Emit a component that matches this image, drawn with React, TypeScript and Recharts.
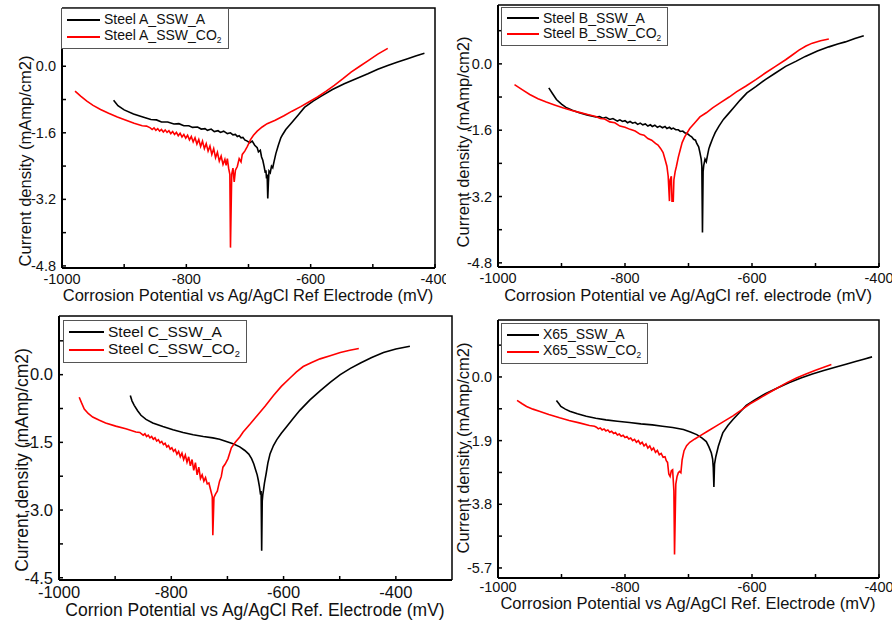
import React from 'react'
import { LineChart, Line, XAxis, YAxis, Legend } from 'recharts'

const FONT = '"Liberation Sans", Arial, Helvetica, sans-serif'

// potential (mV) vs log current density
const steelA_air = [
  [-917, -0.82], [-910, -0.95], [-900, -1.05], [-885, -1.15], [-870, -1.22], [-857, -1.28],
  [-848, -1.29], [-840, -1.34], [-830, -1.34], [-820, -1.39], [-812, -1.38], [-804, -1.43],
  [-796, -1.43], [-790, -1.47], [-782, -1.46], [-776, -1.51], [-770, -1.50], [-766, -1.54],
  [-760, -1.51], [-755, -1.57], [-749, -1.55], [-745, -1.59], [-740, -1.56], [-734, -1.62],
  [-729, -1.60], [-725, -1.65], [-721, -1.64], [-718, -1.69], [-715, -1.67], [-712, -1.72],
  [-709, -1.71], [-706, -1.77], [-702, -1.80], [-698, -1.84], [-694, -1.80], [-690, -1.90],
  [-686, -1.96], [-684, -2.06], [-681, -2.02], [-679, -2.18], [-677, -2.26], [-675, -2.40],
  [-673, -2.56], [-672, -2.50], [-671, -2.70], [-670, -2.60], [-669, -3.18], [-668, -2.80],
  [-667, -2.52], [-665, -2.56], [-663, -2.40], [-661, -2.44], [-659, -2.30], [-656, -2.10],
  [-652, -1.90], [-648, -1.72], [-645, -1.64], [-640, -1.52], [-632, -1.38], [-620, -1.17],
  [-610, -0.99], [-596, -0.84], [-583, -0.72], [-565, -0.56], [-546, -0.42], [-527, -0.30],
  [-508, -0.18], [-492, -0.07], [-476, 0.02], [-460, 0.10], [-444, 0.18], [-430, 0.25],
  [-417, 0.31],
]
const steelA_co2 = [
  [-979, -0.60], [-970, -0.72], [-960, -0.84], [-950, -0.94], [-938, -1.04], [-925, -1.13],
  [-911, -1.22], [-897, -1.30], [-884, -1.37], [-871, -1.43], [-864, -1.44], [-858, -1.48],
  [-855, -1.52], [-852, -1.48], [-849, -1.54], [-846, -1.50], [-843, -1.56], [-840, -1.52],
  [-837, -1.58], [-834, -1.53], [-831, -1.59], [-828, -1.55], [-825, -1.62], [-822, -1.57],
  [-819, -1.64], [-816, -1.59], [-813, -1.67], [-810, -1.61], [-807, -1.70], [-804, -1.64],
  [-801, -1.73], [-798, -1.66], [-795, -1.77], [-792, -1.69], [-789, -1.82], [-786, -1.72],
  [-783, -1.87], [-780, -1.76], [-777, -1.93], [-774, -1.80], [-771, -1.98], [-768, -1.86],
  [-765, -2.04], [-762, -1.92], [-759, -2.12], [-756, -1.98], [-753, -2.20], [-750, -2.07],
  [-747, -2.28], [-744, -2.16], [-741, -2.36], [-738, -2.24], [-736, -2.38], [-734, -2.22],
  [-732, -2.45], [-730, -2.60], [-729, -4.36], [-727, -2.60], [-725, -2.45], [-723, -2.78],
  [-721, -2.50], [-718, -2.41], [-715, -2.22], [-712, -2.30], [-710, -2.12], [-706, -2.04],
  [-702, -1.93], [-699, -1.84], [-697, -1.77], [-692, -1.66], [-686, -1.56], [-678, -1.46],
  [-670, -1.38], [-657, -1.30], [-643, -1.19], [-630, -1.08], [-616, -0.97], [-603, -0.86],
  [-589, -0.74], [-575, -0.60], [-562, -0.46], [-548, -0.30], [-535, -0.14], [-521, 0.00],
  [-508, 0.13], [-492, 0.29], [-476, 0.43],
]

const steelB_air = [
  [-920, -0.58], [-914, -0.72], [-908, -0.86], [-900, -0.97], [-893, -1.05], [-883, -1.12],
  [-872, -1.18], [-860, -1.23], [-846, -1.28], [-840, -1.27], [-835, -1.31], [-830, -1.29],
  [-824, -1.34], [-819, -1.32], [-812, -1.38], [-808, -1.35], [-804, -1.39], [-800, -1.37],
  [-796, -1.42], [-792, -1.39], [-788, -1.43], [-784, -1.41], [-780, -1.46], [-776, -1.43],
  [-772, -1.47], [-768, -1.45], [-764, -1.50], [-760, -1.47], [-757, -1.51], [-753, -1.48],
  [-749, -1.53], [-745, -1.50], [-741, -1.54], [-737, -1.51], [-734, -1.56], [-730, -1.53],
  [-727, -1.57], [-724, -1.55], [-720, -1.59], [-716, -1.59], [-713, -1.63], [-709, -1.62],
  [-706, -1.66], [-702, -1.68], [-698, -1.73], [-695, -1.76], [-692, -1.82], [-689, -1.84],
  [-687, -1.92], [-684, -2.00], [-682, -2.14], [-680, -2.30], [-679, -2.47], [-678, -4.07],
  [-677, -2.60], [-676, -2.45], [-674, -2.30], [-672, -2.36], [-670, -2.20], [-668, -2.05],
  [-666, -1.96], [-662, -1.80], [-658, -1.66], [-652, -1.50], [-645, -1.34], [-637, -1.20],
  [-629, -1.06], [-619, -0.88], [-608, -0.70], [-594, -0.55], [-579, -0.38], [-563, -0.22],
  [-547, -0.06], [-531, 0.06], [-516, 0.18], [-497, 0.31], [-479, 0.41], [-465, 0.48],
  [-453, 0.53], [-438, 0.61], [-424, 0.68],
]
const steelB_co2 = [
  [-974, -0.50], [-962, -0.62], [-950, -0.74], [-937, -0.84], [-924, -0.92], [-911, -0.99],
  [-898, -1.06], [-885, -1.12], [-872, -1.17], [-859, -1.22], [-846, -1.27], [-839, -1.32],
  [-832, -1.33], [-824, -1.40], [-816, -1.42], [-808, -1.50], [-800, -1.53], [-792, -1.58],
  [-784, -1.62], [-776, -1.70], [-770, -1.72], [-764, -1.80], [-758, -1.84], [-752, -1.92],
  [-748, -1.96], [-744, -2.04], [-740, -2.14], [-737, -2.30], [-734, -2.47], [-732, -2.71],
  [-730, -3.31], [-729, -2.80], [-727, -2.71], [-726, -3.31], [-724, -3.31], [-723, -2.80],
  [-721, -2.60], [-719, -2.47], [-716, -2.25], [-713, -2.07], [-710, -1.90], [-706, -1.76],
  [-698, -1.56], [-690, -1.42], [-682, -1.28], [-672, -1.18], [-662, -1.06], [-649, -0.93],
  [-636, -0.80], [-624, -0.67], [-610, -0.54], [-594, -0.38], [-579, -0.22], [-563, -0.06],
  [-547, 0.10], [-536, 0.22], [-526, 0.33], [-515, 0.43], [-505, 0.50], [-492, 0.56],
  [-479, 0.60],
]

const steelC_air = [
  [-873, -0.46], [-870, -0.58], [-866, -0.68], [-860, -0.80], [-854, -0.90], [-845, -0.99],
  [-833, -1.07], [-815, -1.15], [-797, -1.22], [-779, -1.28], [-761, -1.33], [-743, -1.37],
  [-726, -1.40], [-714, -1.43], [-702, -1.48], [-690, -1.53], [-678, -1.60], [-669, -1.68],
  [-662, -1.76], [-657, -1.86], [-653, -1.98], [-650, -2.10], [-647, -2.22], [-645, -2.34],
  [-643, -2.48], [-641, -2.66], [-640, -2.58], [-639, -3.90], [-638, -2.80], [-637, -2.66],
  [-636, -2.58], [-634, -2.40], [-631, -2.19], [-628, -1.96], [-624, -1.75], [-618, -1.57],
  [-612, -1.44], [-604, -1.30], [-595, -1.16], [-583, -0.97], [-571, -0.79], [-553, -0.56],
  [-535, -0.36], [-517, -0.17], [-499, 0.00], [-481, 0.14], [-463, 0.26], [-443, 0.38],
  [-422, 0.49], [-400, 0.57], [-375, 0.63],
]
const steelC_co2 = [
  [-964, -0.50], [-960, -0.62], [-955, -0.76], [-948, -0.86], [-940, -0.94], [-928, -1.01],
  [-917, -1.07], [-899, -1.14], [-881, -1.20], [-863, -1.27], [-856, -1.28], [-853, -1.31],
  [-850, -1.34], [-847, -1.31], [-844, -1.37], [-841, -1.34], [-838, -1.40], [-835, -1.37],
  [-832, -1.43], [-829, -1.40], [-826, -1.47], [-823, -1.44], [-820, -1.51], [-817, -1.48],
  [-814, -1.55], [-811, -1.52], [-808, -1.60], [-805, -1.57], [-802, -1.65], [-799, -1.62],
  [-796, -1.70], [-793, -1.66], [-790, -1.76], [-787, -1.70], [-784, -1.82], [-781, -1.74],
  [-778, -1.88], [-775, -1.78], [-772, -1.94], [-769, -1.82], [-766, -2.02], [-763, -1.88],
  [-760, -2.12], [-757, -1.95], [-754, -2.22], [-751, -2.05], [-748, -2.30], [-745, -2.22],
  [-742, -2.36], [-739, -2.28], [-736, -2.42], [-733, -2.40], [-731, -2.50], [-729, -2.60],
  [-727, -2.70], [-726, -3.56], [-724, -2.72], [-721, -2.64], [-718, -2.58], [-714, -2.36],
  [-711, -2.26], [-708, -2.05], [-704, -1.98], [-699, -1.86], [-693, -1.62], [-686, -1.50],
  [-678, -1.38], [-672, -1.27], [-660, -1.10], [-648, -0.92], [-633, -0.70], [-618, -0.46],
  [-604, -0.26], [-589, -0.08], [-577, 0.06], [-565, 0.18], [-550, 0.27], [-535, 0.35],
  [-517, 0.42], [-499, 0.49], [-482, 0.54], [-466, 0.58],
]

const x65_air = [
  [-908, -0.70], [-904, -0.80], [-901, -0.88], [-894, -0.96], [-887, -1.02], [-875, -1.10],
  [-861, -1.17], [-846, -1.23], [-830, -1.28], [-812, -1.32], [-793, -1.36], [-775, -1.40],
  [-757, -1.43], [-741, -1.47], [-725, -1.51], [-708, -1.57], [-697, -1.64], [-687, -1.72],
  [-679, -1.82], [-672, -1.93], [-668, -2.08], [-664, -2.27], [-662, -2.45], [-661, -2.70],
  [-660, -3.28], [-659, -2.60], [-657, -2.38], [-653, -2.07], [-649, -1.84], [-646, -1.67],
  [-638, -1.45], [-630, -1.27], [-620, -1.07], [-609, -0.85], [-595, -0.68], [-579, -0.50],
  [-560, -0.33], [-542, -0.17], [-523, -0.03], [-505, 0.09], [-487, 0.19], [-469, 0.29],
  [-452, 0.38], [-437, 0.46], [-424, 0.53], [-411, 0.60],
]
const x65_co2 = [
  [-970, -0.70], [-962, -0.80], [-955, -0.88], [-945, -0.96], [-935, -1.02], [-920, -1.12],
  [-903, -1.22], [-888, -1.30], [-872, -1.37], [-856, -1.45], [-848, -1.47], [-845, -1.50],
  [-842, -1.55], [-839, -1.52], [-836, -1.58], [-833, -1.55], [-830, -1.61], [-827, -1.58],
  [-824, -1.65], [-821, -1.62], [-818, -1.69], [-815, -1.66], [-812, -1.73], [-809, -1.70],
  [-806, -1.77], [-803, -1.74], [-800, -1.81], [-797, -1.78], [-794, -1.85], [-791, -1.82],
  [-788, -1.90], [-785, -1.86], [-782, -1.95], [-779, -1.90], [-776, -2.00], [-773, -1.95],
  [-770, -2.06], [-767, -2.00], [-764, -2.12], [-761, -2.06], [-758, -2.18], [-755, -2.12],
  [-752, -2.25], [-749, -2.19], [-746, -2.32], [-743, -2.28], [-740, -2.40], [-737, -2.38],
  [-735, -2.50], [-733, -2.55], [-731, -2.90], [-729, -2.97], [-727, -2.80], [-725, -2.77],
  [-723, -3.40], [-722, -5.30], [-720, -3.20], [-718, -2.97], [-716, -2.86], [-714, -2.82],
  [-712, -2.86], [-710, -2.47], [-707, -2.20], [-703, -2.05], [-698, -1.95], [-690, -1.85],
  [-682, -1.76], [-670, -1.62], [-656, -1.46], [-643, -1.31], [-630, -1.16], [-617, -0.99],
  [-603, -0.80], [-590, -0.66], [-576, -0.50], [-560, -0.33], [-545, -0.17], [-530, -0.03],
  [-515, 0.09], [-500, 0.20], [-487, 0.29], [-475, 0.37],
]

const xTicks = [-1000, -900, -800, -700, -600, -500, -400]
const yTicksAB = [0.8, 0, -0.8, -1.6, -2.4, -3.2, -4.0, -4.8]
const yMajorAB = [0, -1.6, -3.2, -4.8]
const yTicksC = [0.75, 0, -0.75, -1.5, -2.25, -3.0, -3.75, -4.5]
const yMajorC = [0, -1.5, -3.0, -4.5]
const yTicksX65 = [0.95, 0, -0.95, -1.9, -2.85, -3.8, -4.75, -5.7]
const yMajorX65 = [0, -1.9, -3.8, -5.7]

const yTitle = 'Current density (mAmp/cm2)'

const panels = [
  {
    box: { x: 0, y: 0, w: 446, h: 305 },
    plot: { left: 62, top: 8, right: 435, bottom: 268 },
    xDomain: [-1000, -400], yDomain: [-4.85, 1.4],
    yTicks: yTicksAB, yMajor: yMajorAB,
    xTitle: 'Corrosion Potential vs Ag/AgCl Ref Electrode (mV)',
    xTitleAt: [248, 295], yTitleAt: [25, 161],
    tickFs: 14.5, titleFs: 16.5, legendFs: 14, xTickMargin: 10,
    legend: { left: 61, top: 8, line: 33, row: 17 },
    series: [
      { name: 'Steel A_SSW_A', values: steelA_air, color: '#000000' },
      { name: 'Steel A_SSW_CO2', values: steelA_co2, color: '#ff0000' },
    ],
  },
  {
    box: { x: 446, y: 0, w: 446, h: 305 },
    plot: { left: 498, top: 5, right: 879, bottom: 267 },
    xDomain: [-1000, -400], yDomain: [-4.9, 1.42],
    yTicks: yTicksAB, yMajor: yMajorAB,
    xTitle: 'Corrosion Potential ve Ag/AgCl ref. electrode (mV)',
    xTitleAt: [242, 295], yTitleAt: [17, 142],
    tickFs: 14.5, titleFs: 16.5, legendFs: 14, xTickMargin: 10,
    legend: { left: 55, top: 7, line: 32, row: 16 },
    series: [
      { name: 'Steel B_SSW_A', values: steelB_air, color: '#000000' },
      { name: 'Steel B_SSW_CO2', values: steelB_co2, color: '#ff0000' },
    ],
  },
  {
    box: { x: 0, y: 305, w: 455, h: 316 },
    plot: { left: 59, top: 316, right: 452, bottom: 580 },
    xDomain: [-1000, -300], yDomain: [-4.55, 1.3],
    yTicks: yTicksC, yMajor: yMajorC,
    xTitle: 'Corrion Potential vs Ag/AgCl Ref. Electrode (mV)',
    xTitleAt: [255, 305], yTitleAt: [22, 155],
    tickFs: 16.5, titleFs: 17.5, legendFs: 15.5, xTickMargin: 10,
    legend: { left: 63, top: 15, line: 35, row: 18 },
    series: [
      { name: 'Steel C_SSW_A', values: steelC_air, color: '#000000' },
      { name: 'Steel C_SSW_CO2', values: steelC_co2, color: '#ff0000' },
    ],
  },
  {
    box: { x: 446, y: 305, w: 446, h: 316 },
    plot: { left: 498, top: 320, right: 879, bottom: 578 },
    xDomain: [-1000, -400], yDomain: [-6.0, 1.7],
    yTicks: yTicksX65, yMajor: yMajorX65,
    xTitle: 'Corrosion Potential vs Ag/AgCl Ref. Electrode (mV)',
    xTitleAt: [242, 298], yTitleAt: [17, 143],
    tickFs: 14.5, titleFs: 16.5, legendFs: 14, xTickMargin: 8,
    legend: { left: 55, top: 18, line: 32, row: 17 },
    series: [
      { name: 'X65_SSW_A', values: x65_air, color: '#000000' },
      { name: 'X65_SSW_CO2', values: x65_co2, color: '#ff0000' },
    ],
  },
]

const toPoints = (arr: number[][]) => arr.map(([x, y]) => ({ x, y }))

// top and right edges of the plot frame, traced along the axis domain corners
const frameOf = (xd: number[], yd: number[]) => [
  { x: xd[0], y: yd[1] },
  { x: xd[1], y: yd[1] },
  { x: xd[1], y: yd[0] },
]

function withSub(name: string) {
  if (name.endsWith('CO2')) {
    return (
      <>
        {name.slice(0, -1)}
        <span style={{ fontSize: '0.6em', position: 'relative', top: '0.35em' }}>2</span>
      </>
    )
  }
  return name
}

function Panel({ cfg }: { cfg: any }) {
  const { box, plot, legend } = cfg
  const xAxisH = box.y + box.h - plot.bottom
  const yAxisW = plot.left - box.x
  const T = plot.top - box.y
  const R = plot.right - box.x

  const renderXTick = (p: any) => {
    const v = p.payload.value
    if (v % 200 !== 0) return <g />
    return (
      <text x={p.x} y={p.y} dy="0.71em" textAnchor="middle" fontSize={cfg.tickFs} fontFamily={FONT} fill="#111">
        {v}
      </text>
    )
  }
  const renderYTick = (p: any) => {
    const v = p.payload.value
    if (!cfg.yMajor.some((m: number) => Math.abs(m - v) < 1e-6)) return <g />
    return (
      <text x={p.x} y={p.y} dy="0.35em" textAnchor="end" fontSize={cfg.tickFs} fontFamily={FONT} fill="#111">
        {v.toFixed(1)}
      </text>
    )
  }

  const renderLegend = (props: any) => (
    <div
      style={{
        border: '1px solid #555',
        background: '#fff',
        fontFamily: FONT,
        fontSize: cfg.legendFs,
        color: '#111',
        padding: '2px 6px 3px 5px',
        lineHeight: `${legend.row}px`,
        whiteSpace: 'nowrap',
      }}
    >
      {(props.payload || [])
        .filter((item: any) => item.value !== 'frame')
        .map((item: any) => (
          <div key={item.value} style={{ display: 'flex', alignItems: 'center', height: legend.row }}>
            <span style={{ display: 'inline-block', width: legend.line, borderTop: `2px solid ${item.color}`, marginRight: 4 }} />
            <span>{withSub(item.value)}</span>
          </div>
        ))}
    </div>
  )

  return (
    <div style={{ position: 'absolute', left: box.x, top: box.y, width: box.w, height: box.h }}>
      <LineChart
        width={box.w}
        height={box.h}
        margin={{ top: T, right: box.w - R, left: 0, bottom: 0 }}
      >
        <XAxis
          type="number"
          dataKey="x"
          domain={cfg.xDomain}
          ticks={xTicks}
          interval={0}
          height={xAxisH}
          tickSize={-4}
          tickMargin={cfg.xTickMargin}
          axisLine={{ stroke: '#000', strokeWidth: 2 }}
          tickLine={{ stroke: '#000', strokeWidth: 1.5 }}
          tick={renderXTick}
          label={{
            content: () => (
              <text
                x={cfg.xTitleAt[0]}
                y={cfg.xTitleAt[1]}
                dy="0.35em"
                textAnchor="middle"
                fontSize={cfg.titleFs}
                fontFamily={FONT}
                fill="#111"
              >
                {cfg.xTitle}
              </text>
            ),
          }}
        />
        <YAxis
          type="number"
          dataKey="y"
          domain={cfg.yDomain}
          ticks={cfg.yTicks}
          interval={0}
          width={yAxisW}
          tickSize={-4}
          tickMargin={10}
          axisLine={{ stroke: '#000', strokeWidth: 2 }}
          tickLine={{ stroke: '#000', strokeWidth: 1.5 }}
          tick={renderYTick}
          label={{
            content: () => (
              <text
                x={cfg.yTitleAt[0]}
                y={cfg.yTitleAt[1]}
                dy="0.35em"
                textAnchor="middle"
                transform={`rotate(-90 ${cfg.yTitleAt[0]} ${cfg.yTitleAt[1]})`}
                fontSize={cfg.titleFs}
                fontFamily={FONT}
                fill="#111"
              >
                {yTitle}
              </text>
            ),
          }}
        />
        <Legend
          layout="horizontal"
          verticalAlign="middle"
          align="center"
          wrapperStyle={{ left: legend.left, top: legend.top, width: 'auto' }}
          content={renderLegend}
        />
        <Line
          name="frame"
          legendType="none"
          data={frameOf(cfg.xDomain, cfg.yDomain)}
          dataKey="y"
          type="linear"
          stroke="#000"
          strokeWidth={1.5}
          dot={false}
          activeDot={false}
          isAnimationActive={false}
        />
        {cfg.series.map((s: any) => (
          <Line
            key={s.name}
            name={s.name}
            data={toPoints(s.values)}
            dataKey="y"
            type="linear"
            stroke={s.color}
            strokeWidth={1.6}
            dot={false}
            activeDot={false}
            isAnimationActive={false}
          />
        ))}
      </LineChart>
    </div>
  )
}

export default function App() {
  return (
    <div style={{ position: 'absolute', left: 0, top: 0, width: 892, height: 621, background: '#fff', overflow: 'hidden' }}>
      {panels.map((p, i) => (
        <Panel key={i} cfg={p} />
      ))}
    </div>
  )
}
